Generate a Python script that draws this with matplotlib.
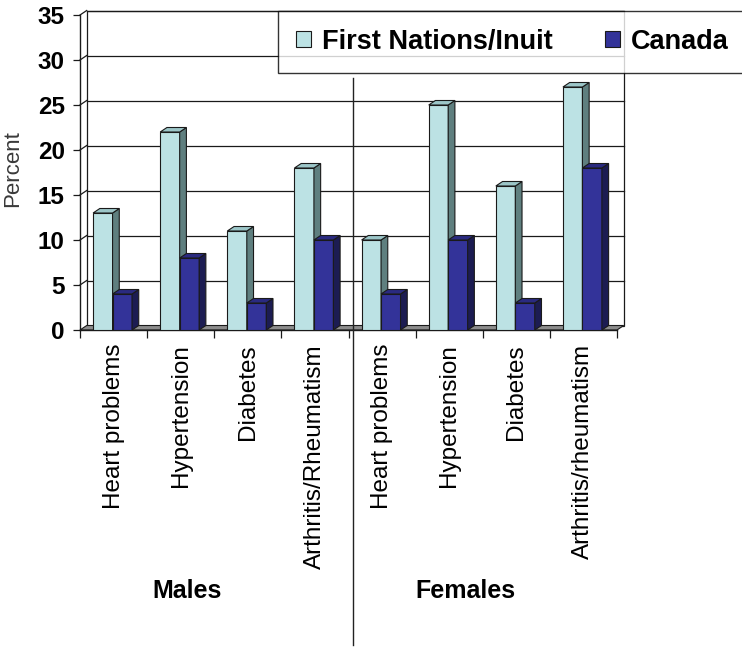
import matplotlib
matplotlib.use("Agg")
import matplotlib.pyplot as plt
from matplotlib.patches import Polygon, Patch
from matplotlib.lines import Line2D
import matplotlib.transforms as mtransforms

plt.rcParams["font.family"] = ["Liberation Sans", "DejaVu Sans"]

# data
conditions = ["Heart problems", "Hypertension", "Diabetes", "Arthritis/Rheumatism",
              "Heart problems", "Hypertension", "Diabetes", "Arthritis/rheumatism"]
groups = ["Males", "Females"]
first_nations = [13, 22, 11, 18, 10, 25, 16, 27]
canada = [4, 8, 3, 10, 4, 10, 3, 18]
series_names = ["First Nations/Inuit", "Canada"]
yticks = [0, 5, 10, 15, 20, 25, 30, 35]

# styling of the fake 3D look
DX, DY = 0.1, 0.5          # depth offset in data units
BAR_W = 0.29
BAR_START = 0.195
light = dict(front="#bce2e4", side="#5f7f7f", top="#9cc6c8")
dark = dict(front="#333399", side="#1c1c52", top="#2a2a80")
EDGE = "#1a1a1a"

W, H = 742, 648
fig = plt.figure(figsize=(W / 100, H / 100), dpi=100)
ax = fig.add_axes([80 / W, 1 - 330 / H, 537 / W, 315 / H])
n = len(conditions)
ymax = yticks[-1]
ax.set_xlim(0, n)
ax.set_ylim(0, ymax)
for s in ax.spines.values():
    s.set_visible(False)

# back wall + left wall
ax.add_patch(Polygon([(DX, DY), (n + DX, DY), (n + DX, ymax + DY), (DX, ymax + DY)],
                     closed=True, facecolor="white", edgecolor=EDGE, lw=0.9,
                     clip_on=False, zorder=1))
for yv in yticks[1:]:
    ax.plot([DX, n + DX], [yv + DY, yv + DY], color=EDGE, lw=0.9, clip_on=False, zorder=1.5)
    ax.plot([0, DX], [yv, yv + DY], color=EDGE, lw=0.9, clip_on=False, zorder=1.5)
ax.plot([0, 0], [0, ymax], color=EDGE, lw=1.0, clip_on=False, zorder=1.6)

# floor
ax.add_patch(Polygon([(0, 0), (n, 0), (n + DX, DY), (DX, DY)], closed=True,
                     facecolor="#8c8c8c", edgecolor=EDGE, lw=0.8, clip_on=False, zorder=2))


def bar3d(x0, val, col, z):
    ax.bar(x0, val, width=BAR_W, bottom=0, align="edge", color=col["front"],
           edgecolor=EDGE, linewidth=0.8, zorder=z)
    x1 = x0 + BAR_W
    ax.add_patch(Polygon([(x1, 0), (x1 + DX, DY), (x1 + DX, val + DY), (x1, val)],
                         closed=True, facecolor=col["side"], edgecolor=EDGE, lw=0.8,
                         clip_on=False, zorder=z))
    ax.add_patch(Polygon([(x0, val), (x0 + DX, val + DY), (x1 + DX, val + DY), (x1, val)],
                         closed=True, facecolor=col["top"], edgecolor=EDGE, lw=0.8,
                         clip_on=False, zorder=z))


for i in range(n):
    bar3d(i + BAR_START, first_nations[i], light, 3 + i * 0.1)
    bar3d(i + BAR_START + BAR_W, canada[i], dark, 3.05 + i * 0.1)

# axes ticks
ax.set_yticks(yticks)
ax.set_yticklabels([str(v) for v in yticks], fontweight="bold")
ax.tick_params(axis="y", length=5, width=0.9, pad=6, labelsize=17.5, color=EDGE)
ax.set_xticks(range(n + 1))
ax.set_xticklabels([""] * (n + 1))
ax.tick_params(axis="x", which="major", length=6, width=0.9, color=EDGE)
ax.set_xticks([i + 0.5 for i in range(n)], conditions, minor=True)
ax.tick_params(axis="x", which="minor", length=0, pad=10, labelsize=17.5, labelrotation=90)
ax.plot([0, n], [0, 0], color=EDGE, lw=1.0, clip_on=False, zorder=2.5)

ax.set_ylabel("Percent", fontsize=16, color="#3a3a3a")
ax.yaxis.set_label_coords(-0.106, 0.513)

# group labels and separator
trans = mtransforms.blended_transform_factory(ax.transData, fig.transFigure)
ax.text(n * 0.2, 1 - 591 / H, groups[0], transform=trans, ha="center", va="center",
        fontsize=18, fontweight="bold")
ax.text(n * 0.7175, 1 - 591 / H, groups[1], transform=trans, ha="center", va="center",
        fontsize=18, fontweight="bold")
fig.add_artist(Line2D([n / 2 + 0.07, n / 2 + 0.07], [1 - 645 / H, 1 - 78 / H],
                      transform=trans, color="#222222", lw=1.0))

# legend
handles = [Patch(facecolor=light["front"], edgecolor=EDGE, lw=0.8),
           Patch(facecolor=dark["front"], edgecolor=EDGE, lw=0.8)]
leg = fig.legend(handles, series_names, loc="upper left",
                 bbox_to_anchor=(278 / W, 1 - 11 / H), bbox_transform=fig.transFigure,
                 ncol=2, frameon=True, fancybox=False, borderaxespad=0,
                 prop=dict(size=19.5, weight="bold"), handlelength=0.55, handleheight=0.55,
                 handletextpad=0.4, columnspacing=1.95, borderpad=0.66)
leg.get_frame().set_edgecolor("black")
leg.get_frame().set_linewidth(1.0)
leg.set_zorder(10)

fig.savefig("out.png", dpi=100)
